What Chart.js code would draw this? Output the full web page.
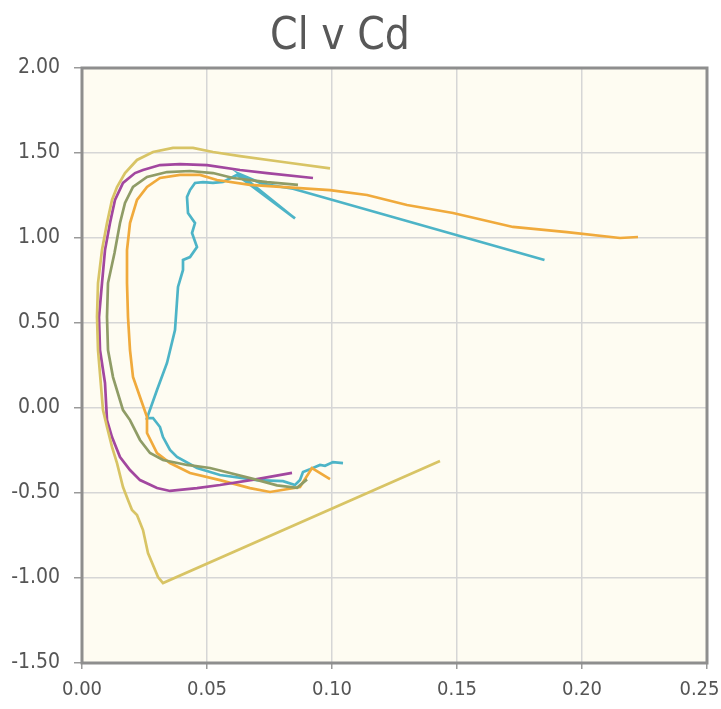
<!DOCTYPE html>
<html>
<head>
<meta charset="utf-8">
<title>Cl v Cd</title>
<script src="https://cdn.jsdelivr.net/npm/chart.js@4/dist/chart.umd.min.js"></script>
<style>
  html, body { margin: 0; padding: 0; background: #ffffff; }
  #wrap { width: 721px; height: 709px; }
</style>
</head>
<body>
<div id="wrap"><canvas id="grafico" width="721" height="709"></canvas></div>
<script>
// Ejes
const xTicks = [0, 0.05, 0.10, 0.15, 0.20, 0.25];
const yTicks = [-1.5, -1.0, -0.5, 0, 0.5, 1.0, 1.5, 2.0];
const titulo = 'Cl v Cd';

// Serie amarilla
const cdYellow = [0.1432, 0.0324, 0.0304, 0.0264, 0.0244, 0.022, 0.020, 0.0184, 0.0164, 0.014, 0.012, 0.010, 0.0084, 0.0064, 0.006, 0.0064, 0.008, 0.010, 0.012, 0.014, 0.0172, 0.022, 0.0284, 0.0364, 0.0444, 0.0524, 0.0632, 0.0804, 0.0992];
const clYellow = [-0.312, -1.03, -0.994, -0.853, -0.718, -0.629, -0.60, -0.541, -0.465, -0.324, -0.229, -0.112, -0.012, 0.341, 0.535, 0.735, 0.93, 1.088, 1.224, 1.30, 1.382, 1.459, 1.506, 1.53, 1.53, 1.506, 1.482, 1.447, 1.41];

// Serie naranja
const cdOrange = [0.0992, 0.092, 0.0872, 0.0752, 0.0672, 0.0552, 0.0432, 0.0352, 0.030, 0.026, 0.026, 0.0232, 0.0204, 0.0192, 0.0184, 0.018, 0.018, 0.0192, 0.022, 0.026, 0.0312, 0.0392, 0.0472, 0.054, 0.0672, 0.0992, 0.114, 0.13, 0.1484, 0.1724, 0.194, 0.2152, 0.2224];
const clOrange = [-0.418, -0.353, -0.465, -0.494, -0.471, -0.424, -0.382, -0.324, -0.265, -0.147, -0.053, 0.065, 0.182, 0.341, 0.535, 0.735, 0.929, 1.088, 1.224, 1.30, 1.353, 1.371, 1.371, 1.341, 1.312, 1.282, 1.253, 1.194, 1.147, 1.065, 1.035, 1.0, 1.006];

// Serie morada
const cdPurple = [0.084, 0.07, 0.0552, 0.046, 0.0352, 0.03, 0.0232, 0.0192, 0.0152, 0.012, 0.010, 0.0092, 0.0072, 0.0068, 0.008, 0.0092, 0.0112, 0.0132, 0.0164, 0.0212, 0.0244, 0.0312, 0.0392, 0.05, 0.0632, 0.074, 0.0924];
const clPurple = [-0.382, -0.418, -0.453, -0.471, -0.488, -0.471, -0.424, -0.365, -0.288, -0.171, -0.071, 0.147, 0.341, 0.535, 0.735, 0.929, 1.088, 1.224, 1.324, 1.382, 1.40, 1.429, 1.435, 1.429, 1.40, 1.382, 1.353];

// Serie verde
const cdGreen = [0.09, 0.086, 0.078, 0.0692, 0.0592, 0.0512, 0.042, 0.0324, 0.0272, 0.0232, 0.0192, 0.0164, 0.0124, 0.0104, 0.010, 0.0104, 0.013, 0.0152, 0.0172, 0.0204, 0.026, 0.034, 0.0432, 0.0524, 0.0604, 0.074, 0.0864];
const clGreen = [-0.42, -0.47, -0.455, -0.42, -0.382, -0.353, -0.335, -0.306, -0.265, -0.188, -0.071, -0.012, 0.182, 0.341, 0.535, 0.735, 0.912, 1.088, 1.206, 1.30, 1.359, 1.388, 1.394, 1.382, 1.353, 1.329, 1.312];

// Serie cian
const cdCyan = [0.1044, 0.1004, 0.0972, 0.0952, 0.0912, 0.0884, 0.0872, 0.0852, 0.0804, 0.07, 0.0552, 0.046, 0.038, 0.0352, 0.0324, 0.0312, 0.0284, 0.026, 0.03, 0.034, 0.0372, 0.0384, 0.0404, 0.0404, 0.0432, 0.046, 0.044, 0.0452, 0.0424, 0.042, 0.0432, 0.0452, 0.0484, 0.0524, 0.0564, 0.062, 0.0852, 0.0632, 0.072, 0.08, 0.0844, 0.185];
const clCyan = [-0.324, -0.318, -0.34, -0.335, -0.36, -0.376, -0.424, -0.453, -0.43, -0.424, -0.394, -0.353, -0.288, -0.247, -0.171, -0.112, -0.059, -0.059, 0.106, 0.265, 0.459, 0.712, 0.812, 0.871, 0.888, 0.947, 1.029, 1.088, 1.147, 1.241, 1.282, 1.324, 1.329, 1.324, 1.33, 1.371, 1.115, 1.375, 1.32, 1.30, 1.29, 0.871];

const toPoints = (cd, cl) => cd.map((x, i) => ({ x: x, y: cl[i] }));

const fuente = "'DejaVu Sans Condensed', 'Liberation Sans Narrow', 'Roboto', sans-serif";

// fondo crema, marco del area y titulo
const marcoPlugin = {
    id: 'marco',
    beforeDraw(chart) {
        const a = chart.chartArea;
        const ctx = chart.ctx;
        ctx.save();
        ctx.fillStyle = '#fefcf2';
        ctx.fillRect(a.left, a.top, a.right - a.left, a.bottom - a.top);
        ctx.restore();
    },
    beforeDatasetsDraw(chart) {
        const a = chart.chartArea;
        const ctx = chart.ctx;
        ctx.save();
        ctx.strokeStyle = '#8e8e8e';
        ctx.lineWidth = 3;
        ctx.strokeRect(a.left, a.top, a.right - a.left, a.bottom - a.top);
        ctx.restore();
    },
    afterDraw(chart) {
        const ctx = chart.ctx;
        ctx.save();
        ctx.fillStyle = '#585858';
        ctx.font = '44px ' + fuente;
        ctx.textAlign = 'center';
        ctx.textBaseline = 'middle';
        ctx.fillText(titulo, 340, 38);
        ctx.restore();
    }
};

const serie = (data, color) => ({
    data: data,
    showLine: true,
    borderColor: color,
    backgroundColor: color,
    borderWidth: 2.7,
    pointRadius: 0,
    tension: 0,
    fill: false
});

new Chart(document.getElementById('grafico').getContext('2d'), {
    type: 'scatter',
    data: {
        datasets: [
            serie(toPoints(cdYellow, clYellow), '#d8c465'),
            serie(toPoints(cdGreen, clGreen), '#8f9c66'),
            serie(toPoints(cdPurple, clPurple), '#a2479f'),
            serie(toPoints(cdOrange, clOrange), '#f0aa3c'),
            serie(toPoints(cdCyan, clCyan), '#4db4c7')
        ]
    },
    options: {
        responsive: false,
        animation: false,
        layout: { padding: { left: 0, right: 14, top: 68, bottom: 0 } },
        plugins: {
            legend: { display: false },
            tooltip: { enabled: false },
            title: { display: false }
        },
        scales: {
            x: {
                type: 'linear',
                min: 0,
                max: 0.25,
                afterBuildTicks: (scale) => { scale.ticks = xTicks.map(v => ({ value: v })); },
                afterFit: (scale) => {
                    scale.height = 46;
                    scale.paddingRight = 0;
                    scale.paddingLeft = 0;
                },
                ticks: {
                    color: '#555',
                    font: { family: fuente, size: 20 },
                    padding: 9,
                    maxRotation: 0,
                    // la ultima etiqueta se corre un poco para que quepa
                    callback: (v) => Number(v).toFixed(2) + (v >= 0.25 ? '\u2007\u2009' : '')
                },
                grid: { color: '#d6d6d6', lineWidth: 1.5, tickLength: 6, tickColor: '#9a9a9a' },
                border: { display: false }
            },
            y: {
                type: 'linear',
                min: -1.5,
                max: 2,
                afterBuildTicks: (scale) => { scale.ticks = yTicks.map(v => ({ value: v })); },
                afterFit: (scale) => {
                    scale.width = 82;
                    scale.paddingTop = 0;
                    scale.paddingBottom = 0;
                },
                ticks: {
                    color: '#555',
                    font: { family: fuente, size: 21 },
                    padding: 14,
                    callback: (v) => Number(v).toFixed(2)
                },
                grid: { color: '#d6d6d6', lineWidth: 1.5, tickLength: 8, tickColor: '#9a9a9a' },
                border: { display: false }
            }
        }
    },
    plugins: [marcoPlugin]
});
</script>
</body>
</html>
